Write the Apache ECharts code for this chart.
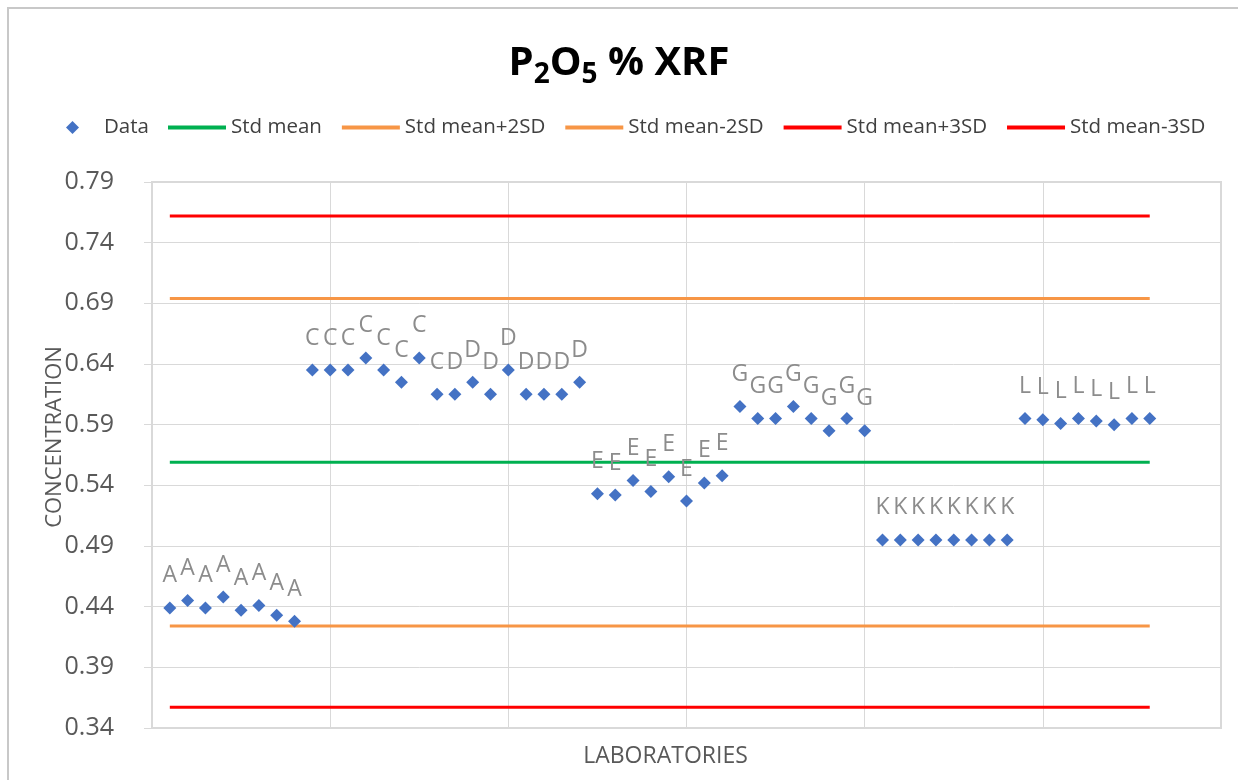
<!DOCTYPE html>
<html>
<head>
<meta charset="utf-8">
<script src="https://cdn.jsdelivr.net/npm/echarts@6/dist/echarts.min.js"></script>
<style>html,body{margin:0;padding:0;background:#fff}#c{width:1238px;height:780px}</style>
</head>
<body>
<div id="c"></div>
<script>
// ---- data ----
var labs = ['A', 'C', 'D', 'E', 'G', 'K', 'L'];
var valA = [0.439, 0.445, 0.439, 0.448, 0.437, 0.441, 0.433, 0.428];
var valC = [0.635, 0.635, 0.635, 0.645, 0.635, 0.625, 0.645, 0.615];
var valD = [0.615, 0.625, 0.615, 0.635, 0.615, 0.615, 0.615, 0.625];
var valE = [0.533, 0.532, 0.544, 0.535, 0.547, 0.527, 0.542, 0.548];
var valG = [0.605, 0.595, 0.595, 0.605, 0.595, 0.585, 0.595, 0.585];
var valK = [0.495, 0.495, 0.495, 0.495, 0.495, 0.495, 0.495, 0.495];
var valL = [0.595, 0.594, 0.591, 0.595, 0.593, 0.590, 0.595, 0.595];
var stdMean = 0.559;
var stdPlus2 = 0.694;
var stdMinus2 = 0.424;
var stdPlus3 = 0.762;
var stdMinus3 = 0.357;
var lineX = [1, 56];
var yTicks = [0.34, 0.79, 0.05]; // min, max, step

// ---- build ----
var groups = [valA, valC, valD, valE, valG, valK, valL];
var points = [];
var pointLabels = [];
var xi = 1;
groups.forEach(function (g, gi) {
  g.forEach(function (v) {
    points.push([xi, v]);
    pointLabels.push(labs[gi]);
    xi++;
  });
});
function hline(v) { return [[lineX[0], v], [lineX[1], v]]; }

var FONT = "'Open Sans', 'Noto Sans', sans-serif";
var chart = echarts.init(document.getElementById('c'), null, {renderer: 'canvas'});
var lineSeries = function (name, v, color) {
  return {
    name: name, type: 'line', data: hline(v), symbol: 'none', showSymbol: false,
    lineStyle: {color: color, width: 3}, itemStyle: {color: color}, z: 2, animation: false
  };
};
var lineNames = ['Std mean', 'Std mean+2SD', 'Std mean-2SD', 'Std mean+3SD', 'Std mean-3SD'];
chart.setOption({
  animation: false,
  backgroundColor: '#fff',
  title: {
    text: '{a|P}{s|2}{a|O}{s|5}{a| % XRF}',
    left: 'center', top: 34,
    textStyle: {
      rich: {
        a: {fontSize: 40, fontWeight: 'bold', fontFamily: FONT, color: '#000', lineHeight: 40, verticalAlign: 'middle'},
        s: {fontSize: 28, fontWeight: 'bold', fontFamily: FONT, color: '#000', lineHeight: 50, verticalAlign: 'bottom'}
      }
    }
  },
  legend: [{
    data: [{name: 'Data', icon: 'diamond'}],
    left: 66, top: 117, padding: 0, itemWidth: 13, itemHeight: 13,
    textStyle: {fontSize: 20.5, fontFamily: FONT, color: '#404040', padding: [0, 0, 0, 20]}
  }, {
    data: lineNames.map(function (n) { return {name: n, icon: 'rect'}; }),
    left: 168, top: 117, padding: 0, itemWidth: 58, itemHeight: 4, itemGap: 20,
    textStyle: {fontSize: 20.5, fontFamily: FONT, color: '#404040'}
  }],
  grid: {left: 152, right: 17, top: 182, bottom: 52, show: true, borderColor: '#d9d9d9', borderWidth: 2, containLabel: false},
  xAxis: {
    type: 'value', min: 0, max: 60, interval: 10,
    name: 'LABORATORIES', nameLocation: 'middle', nameGap: 17,
    nameTextStyle: {fontSize: 23, fontFamily: FONT, color: '#595959', padding: [0, 42, 0, 0]},
    axisLabel: {show: false}, axisTick: {show: false},
    axisLine: {show: true, lineStyle: {color: '#d9d9d9', width: 2}},
    splitLine: {show: true, lineStyle: {color: '#d9d9d9', width: 1}}
  },
  yAxis: {
    type: 'value', min: yTicks[0], max: yTicks[1], interval: yTicks[2],
    name: 'CONCENTRATION', nameLocation: 'middle', nameGap: 86, nameRotate: 90,
    nameMoveOverlap: false,
    nameTextStyle: {fontSize: 22, fontFamily: FONT, color: '#595959', padding: [0, 0, 0, 36]},
    axisLabel: {fontSize: 25, fontFamily: FONT, color: '#595959', margin: 38, formatter: function (v) { return v.toFixed(2); }},
    axisTick: {show: true, length: 8, lineStyle: {color: '#d9d9d9'}},
    axisLine: {show: true, lineStyle: {color: '#d9d9d9', width: 2}},
    splitLine: {show: true, lineStyle: {color: '#d9d9d9', width: 1}}
  },
  series: [
    {
      name: 'Data', type: 'scatter', data: points, symbol: 'diamond', symbolSize: 13,
      itemStyle: {color: '#4472c4', opacity: 1}, z: 5,
      label: {
        show: true, position: 'top', distance: 14,
        fontSize: 23, fontFamily: FONT, color: '#8c8c8c',
        formatter: function (p) { return pointLabels[p.dataIndex]; }
      }
    },
    lineSeries(lineNames[0], stdMean, '#00b050'),
    lineSeries(lineNames[1], stdPlus2, '#f79646'),
    lineSeries(lineNames[2], stdMinus2, '#f79646'),
    lineSeries(lineNames[3], stdPlus3, '#ff0000'),
    lineSeries(lineNames[4], stdMinus3, '#ff0000')
  ],
  graphic: [{
    type: 'rect', shape: {x: 8, y: 8, width: 1250, height: 800},
    style: {fill: 'none', stroke: '#c8c8c8', lineWidth: 2}, silent: true
  }]
});
</script>
</body>
</html>
